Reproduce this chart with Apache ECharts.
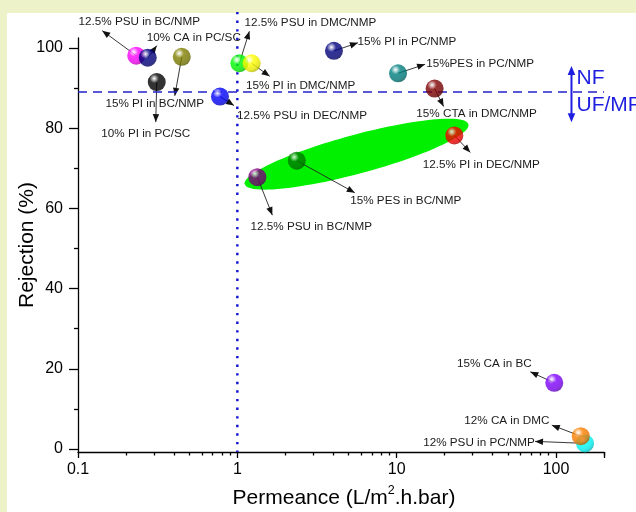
<!DOCTYPE html>
<html><head><meta charset="utf-8">
<script src="https://cdn.jsdelivr.net/npm/echarts@6/dist/echarts.min.js"></script>
<style>
html,body{margin:0;padding:0;background:#EEF2C8;overflow:hidden;}
#bg{position:absolute;left:7px;top:13px;width:629px;height:499px;background:#fff;}
#c{position:absolute;left:0;top:0;width:636px;height:512px;}
</style>
</head><body><div id="bg"></div><div id="c"></div>
<script>
// ---- data ----
const membranes = [
  '12.5% PSU in BC/NMP', '10% CA in PC/SC', '15% PI in BC/NMP', '10% PI in PC/SC',
  '12.5% PSU in DEC/NMP', '12.5% PSU in DMC/NMP', '15% PI in DMC/NMP', '15% PI in PC/NMP',
  '15%PES in PC/NMP', '15% CTA in DMC/NMP', '12.5% PI in DEC/NMP', '15% PES in BC/NMP',
  '12.5% PSU in BC/NMP', '15% CA in BC', '12% PSU in PC/NMP', '12% CA in DMC'
];
const permeance = [0.232, 0.274, 0.448, 0.312, 0.778, 1.03, 1.23, 4.04, 10.2, 17.3, 23.0, 2.36, 1.335, 97.5, 152, 143];
const rejection = [98.1, 97.6, 97.8, 91.5, 87.9, 96.2, 96.2, 99.3, 93.7, 89.9, 78.2, 71.9, 67.8, 16.5, 1.4, 3.2];
const ballColors = ['#FF00FF', '#000080', '#808000', '#000000', '#0000FF', '#00FF00', '#FFFF00', '#000080',
  '#008080', '#800000', '#FF0000', '#008000', '#800080', '#8000FF', '#00FFFF', '#FF8000'];
const xTickLabels = [0.1, 1, 10, 100];
const xMinorTicks = [0.2,0.3,0.4,0.5,0.6,0.7,0.8,0.9,2,3,4,5,6,7,8,9,20,30,40,50,60,70,80,90,200];
const yTickLabels = [0, 20, 40, 60, 80, 100];
const yMinorTicks = [10, 30, 50, 70, 90];
const nfBoundary = 89;      // rejection (%) separating NF from UF/MF
const permeanceRef = 1;     // vertical reference line
// green ellipse: ends of its long axis in data units
const ellipseEnds = [[1.114, 66.0], [28.2, 81.0]];

// ---- annotation layout (pixel offsets from each ball) ----
const labelOffsets = [[3,-34],[46,-20],[-27,47],[-11,52],[82,19],[71,-40],[49,23],[73,-9],
  [82,-10],[42,25],[27,29],[109,40],[54,50],[-60,-19],[-106,-1],[-74,-15]];
const arrowEnds = [[-34,-25],[9,-12],[-7,39],[-1,40],[14,9],[10,-32],[18,13],[24,-8],
  [27,-9],[9,18],[16,17],[58,32],[15,38],[-24,-11],[-50,-2],[-29,-11]];

const FONT = '"Liberation Sans", Arial, sans-serif';

function rgb(hex) {
  const n = parseInt(hex.slice(1), 16);
  return [(n >> 16) & 255, (n >> 8) & 255, n & 255];
}
function shade(hex, f) {
  const c = rgb(hex).map(v => Math.round(v * f));
  return 'rgb(' + c.join(',') + ')';
}
function lighten(hex, f) {
  const c = rgb(hex).map(v => Math.round(v + (255 - v) * f));
  return 'rgb(' + c.join(',') + ')';
}
function ball(c) {
  return { type: 'radial', x: 0.36, y: 0.3, r: 0.8, colorStops: [
    { offset: 0, color: '#ffffff' },
    { offset: 0.1, color: lighten(c, 0.7) },
    { offset: 0.32, color: c },
    { offset: 0.72, color: shade(c, 0.9) },
    { offset: 1, color: shade(c, 0.6) }
  ]};
}

const chart = echarts.init(document.getElementById('c'), null, { renderer: 'canvas' });

const axisLineStyle = { color: '#000', width: 1.3 };
const option = {
  animation: false,
  backgroundColor: 'transparent',
  grid: { left: 78, right: 32, top: 38, bottom: 60, containLabel: false, outerBoundsMode: 'none' },
  xAxis: [
    {
      type: 'log', logBase: 10, min: 0.1, max: 200, position: 'bottom',
      axisLine: { show: true, onZero: false, lineStyle: axisLineStyle },
      axisTick: { show: true, inside: false, length: 6, lineStyle: axisLineStyle },
      axisLabel: { fontFamily: FONT, fontSize: 16, color: '#000', margin: 10,
        formatter: v => (xTickLabels.some(t => Math.abs(t - v) < 1e-9) ? String(v) : '') },
      splitLine: { show: false },
      name: '{a|Permeance (L/m}{s|2}{a|.h.bar)}', nameLocation: 'middle', nameGap: 32, nameMoveOverlap: false,
      nameTextStyle: { fontFamily: FONT, fontSize: 21, color: '#000', padding: [0, 0, 0, 6],
        rich: {
          a: { fontFamily: FONT, fontSize: 21, color: '#000', lineHeight: 25, verticalAlign: 'bottom' },
          s: { fontFamily: FONT, fontSize: 12.5, color: '#000', lineHeight: 25, verticalAlign: 'top' }
        } }
    },
    {
      type: 'value', min: -1, max: Math.log10(200), position: 'bottom',
      axisLine: { show: false, onZero: false },
      axisTick: { show: true, inside: false, length: 3.5, customValues: xMinorTicks.map(v => Math.log10(v)), lineStyle: axisLineStyle },
      axisLabel: { show: false }, splitLine: { show: false }
    }
  ],
  yAxis: [
    {
      type: 'value', min: -0.75, max: 102.5, position: 'left',
      axisLine: { show: true, onZero: false, lineStyle: axisLineStyle },
      axisTick: { show: true, inside: false, length: 9, customValues: yTickLabels, lineStyle: axisLineStyle },
      axisLabel: { customValues: yTickLabels, fontFamily: FONT, fontSize: 16, color: '#000', margin: 15 },
      splitLine: { show: false },
      name: 'Rejection (%)', nameLocation: 'middle', nameGap: 40, nameMoveOverlap: false,
      nameTextStyle: { fontFamily: FONT, fontSize: 21, color: '#000' }
    },
    {
      type: 'value', min: -0.75, max: 102.5, position: 'left',
      axisLine: { show: false, onZero: false },
      axisTick: { show: true, inside: false, length: 4, customValues: yMinorTicks, lineStyle: axisLineStyle },
      axisLabel: { show: false }, splitLine: { show: false }
    }
  ],
  series: [{
    type: 'scatter', xAxisIndex: 0, yAxisIndex: 0, z: 5,
    symbol: 'circle', symbolSize: 18,
    data: permeance.map((x, i) => ({ value: [x, rejection[i]], itemStyle: { color: ball(ballColors[i]) } })),
    markLine: {
      silent: true, symbol: 'none', label: { show: false },
      lineStyle: { type: [9, 6], color: '#2323C8', width: 1.6 },
      data: [{ yAxis: nfBoundary }]
    }
  }]
};
chart.setOption(option);

// ---- annotations positioned through the chart's scales ----
function px(x, y) { return chart.convertToPixel({ xAxisIndex: 0, yAxisIndex: 0 }, [x, y]); }
const g = [];
// green ellipse
const e0 = px(ellipseEnds[0][0], ellipseEnds[0][1]);
const e1 = px(ellipseEnds[1][0], ellipseEnds[1][1]);
const ecx = (e0[0] + e1[0]) / 2, ecy = (e0[1] + e1[1]) / 2;
const ea = Math.hypot(e1[0] - e0[0], e1[1] - e0[1]) / 2;
g.push({ type: 'ellipse', x: ecx, y: ecy, rotation: -Math.atan2(e1[1] - e0[1], e1[0] - e0[0]),
  shape: { cx: 0, cy: 0, rx: ea, ry: 19.5 }, style: { fill: '#00F000' }, z: 1 });
// vertical reference line at permeance 1
const vb = px(permeanceRef, -0.75), vt = px(permeanceRef, 109);
g.push({ type: 'line', shape: { x1: vb[0], y1: vt[1], x2: vb[0], y2: vb[1] },
  style: { stroke: '#1010D0', lineWidth: 2.4, lineDash: [2.4, 6.2] }, z: 2 });

function arrowHead(tx, ty, fx, fy, len, half, color, z) {
  const ang = Math.atan2(ty - fy, tx - fx);
  const bx = tx - len * Math.cos(ang), by = ty - len * Math.sin(ang);
  const nx = -Math.sin(ang) * half, ny = Math.cos(ang) * half;
  return { type: 'polygon', shape: { points: [[tx, ty], [bx + nx, by + ny], [bx - nx, by - ny]] },
    style: { fill: color }, z: z };
}
permeance.forEach((x, i) => {
  const p = px(x, rejection[i]);
  const ax = p[0] + arrowEnds[i][0], ay = p[1] + arrowEnds[i][1];
  g.push({ type: 'line', shape: { x1: p[0], y1: p[1], x2: ax, y2: ay },
    style: { stroke: '#222', lineWidth: 0.9 }, z: 3 });
  g.push(arrowHead(ax, ay, p[0], p[1], 8, 3.2, '#111', 3));
  g.push({ type: 'text', x: p[0] + labelOffsets[i][0], y: p[1] + labelOffsets[i][1], z: 6,
    style: { text: membranes[i], fill: '#1a1a1a', fontSize: 11.7, fontFamily: FONT, align: 'center', verticalAlign: 'middle' } });
});
// NF / UF-MF double arrow
const nfTop = px(125, 95.5), nfBot = px(125, 81.5);
const blue = '#1E1EE0';
g.push({ type: 'line', shape: { x1: nfTop[0], y1: nfTop[1] + 6, x2: nfBot[0], y2: nfBot[1] - 6 },
  style: { stroke: blue, lineWidth: 2 }, z: 4 });
g.push(arrowHead(nfTop[0], nfTop[1], nfTop[0], nfTop[1] + 20, 9, 3.8, blue, 4));
g.push(arrowHead(nfBot[0], nfBot[1], nfBot[0], nfBot[1] - 20, 9, 3.8, blue, 4));
const nfT = px(125, 92.5), ufT = px(125, 85.8);
g.push({ type: 'text', x: nfT[0] + 5, y: nfT[1], z: 4,
  style: { text: 'NF', fill: blue, fontSize: 21, fontFamily: FONT, align: 'left', verticalAlign: 'middle' } });
g.push({ type: 'text', x: ufT[0] + 5, y: ufT[1], z: 4,
  style: { text: 'UF/MF', fill: blue, fontSize: 21, fontFamily: FONT, align: 'left', verticalAlign: 'middle' } });

chart.setOption({ graphic: { elements: g } });
</script>
</body></html>
